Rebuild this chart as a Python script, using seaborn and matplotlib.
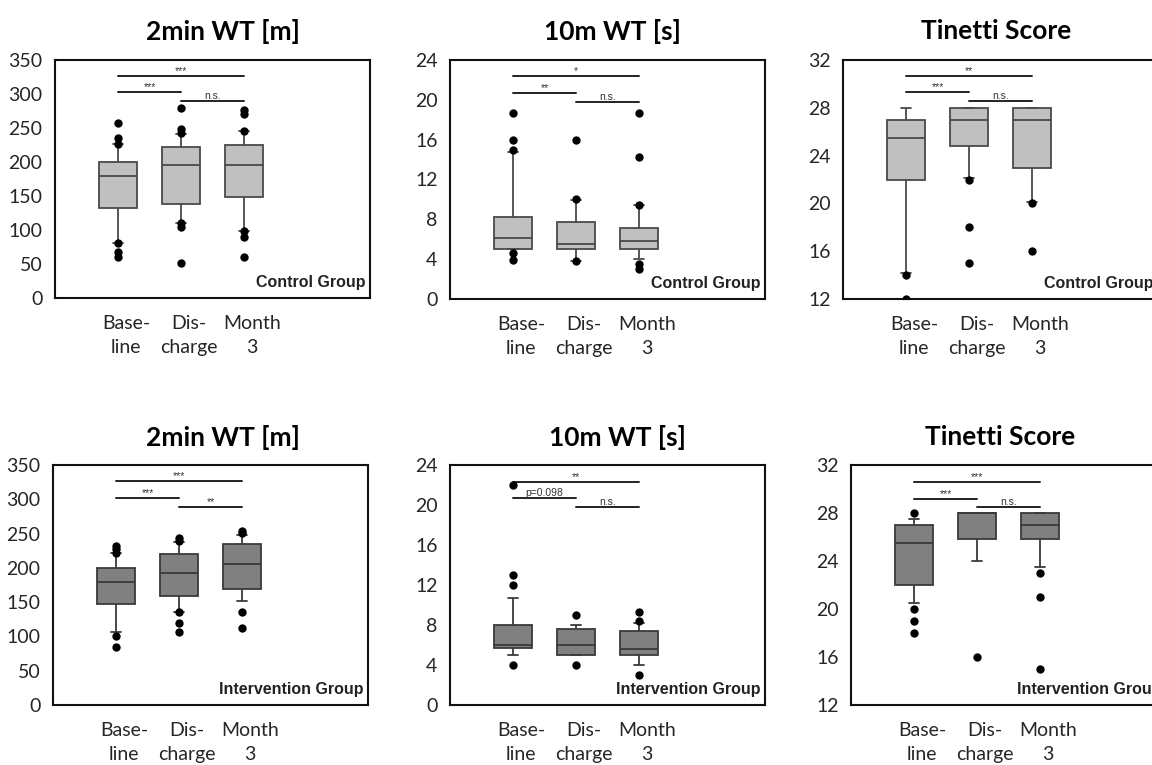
import numpy as np
import pandas as pd
import matplotlib
matplotlib.use("Agg")
import matplotlib.pyplot as plt
import matplotlib.transforms as mtransforms
import seaborn as sns

# time points (4th tick on the axis is left empty)
times = ["Baseline", "Discharge", "Month 3"]
order = times + ["empty"]
tick_labels = ["Base-\nline", "Dis-\ncharge", "Month\n3", ""]

# box summaries per time point: [lower whisker, Q1, median, Q3, upper whisker]
ctrl_2min_box = [[81, 132, 179, 200, 226], [110, 138, 195, 222, 241], [99, 149, 195, 225, 246]]
ctrl_2min_out = [[257, 236, 226, 81, 67, 60], [280, 248, 242, 110, 104, 51], [277, 271, 246, 99, 89, 60]]

ctrl_10m_box = [[5.0, 5.0, 6.1, 8.2, 14.8], [3.8, 5.0, 5.5, 7.75, 9.9], [4.0, 5.0, 5.85, 7.1, 9.45]]
ctrl_10m_out = [[18.7, 16.0, 15.0, 4.6, 3.9], [16.0, 10.0, 3.8], [18.7, 14.3, 9.45, 3.5, 3.0]]

ctrl_tin_box = [[14.2, 22, 25.5, 27, 28], [22.1, 24.8, 27, 28, 28], [20.1, 23, 27, 28, 28]]
ctrl_tin_out = [[14, 12], [22, 18, 15], [20, 16]]

int_2min_box = [[107, 148, 180, 200, 221], [136, 159, 192, 220, 238], [152, 169, 206, 235, 248]]
int_2min_out = [[232, 228, 222, 101, 84], [243, 239, 135, 119, 107], [254, 251, 135, 113]]

int_10m_box = [[5.0, 5.75, 6.05, 8.0, 10.7], [5.0, 5.0, 6.05, 7.6, 8.0], [4.0, 5.0, 5.65, 7.4, 8.2]]
int_10m_out = [[22.0, 13.0, 12.0, 4.0], [9.0, 4.0], [9.35, 8.4, 3.0]]

int_tin_box = [[20.5, 22, 25.5, 27, 27.5], [24, 25.8, 28, 28, 28], [23.5, 25.8, 27, 28, 28]]
int_tin_out = [[28, 20, 19, 18], [16], [23, 21, 15]]

titles = ["2min WT [m]", "10m WT [s]", "Tinetti Score"]
ylims = [(0, 350), (0, 24), (12, 32)]
yticks = [np.arange(0, 351, 50), np.arange(0, 25, 4), np.arange(12, 33, 4)]

# significance bars: (x0, x1, y, label)
ctrl_sig = [
    [(0, 2, 326, "***"), (0, 1, 303, "***"), (1, 2, 290, "n.s.")],
    [(0, 2, 22.4, "*"), (0, 1, 20.7, "**"), (1, 2, 19.8, "n.s.")],
    [(0, 2, 30.65, "**"), (0, 1, 29.3, "***"), (1, 2, 28.6, "n.s.")],
]
int_sig = [
    [(0, 2, 326, "***"), (0, 1, 302, "***"), (1, 2, 289, "**")],
    [(0, 2, 22.3, "**"), (0, 1, 20.7, "p=0.098"), (1, 2, 19.8, "n.s.")],
    [(0, 2, 30.6, "***"), (0, 1, 29.2, "***"), (1, 2, 28.5, "n.s.")],
]

sns.set_style("white")
plt.rcParams["font.family"] = ["Lato", "DejaVu Sans"]

fig = plt.figure(figsize=(11.52, 7.65), dpi=100)
W, H = 1152, 765

# axes rectangles in pixels: left, top, right, bottom
rows = [
    {"box": [ctrl_2min_box, ctrl_10m_box, ctrl_tin_box],
     "out": [ctrl_2min_out, ctrl_10m_out, ctrl_tin_out],
     "sig": ctrl_sig, "label": "Control Group",
     "fill": "#c0c0c0", "edge": "#4a4a4a",
     "rects": [(55, 60, 370, 298), (450, 60, 765, 299), (843, 60, 1158, 299)],
     "title_xy": [(223, 31), (612, 31), (996, 31)]},
    {"box": [int_2min_box, int_10m_box, int_tin_box],
     "out": [int_2min_out, int_10m_out, int_tin_out],
     "sig": int_sig, "label": "Intervention Group",
     "fill": "#808080", "edge": "#3a3a3a",
     "rects": [(53, 465, 368, 705), (450, 465, 765, 705), (851, 465, 1166, 705)],
     "title_xy": [(223, 437), (617, 437), (1000, 437)]},
]

for row in rows:
    for k in range(3):
        l, t, r, b = row["rects"][k]
        ax = fig.add_axes([l / W, 1 - b / H, (r - l) / W, (b - t) / H])

        box_df = pd.DataFrame(
            [(times[i], v) for i in range(3) for v in row["box"][k][i]],
            columns=["time", "value"])
        out_df = pd.DataFrame(
            [(times[i], v) for i in range(3) for v in row["out"][k][i]],
            columns=["time", "value"])

        sns.boxplot(data=box_df, x="time", y="value", order=order, ax=ax,
                    whis=(0, 100), width=0.6, color=row["fill"],
                    linecolor=row["edge"], linewidth=1.3, showfliers=False,
                    saturation=1, capwidths=0.16)
        sns.stripplot(data=out_df, x="time", y="value", order=order, ax=ax,
                      jitter=False, color="black", size=6, zorder=5)

        ax.set_xlim(-1, 4)
        ax.set_ylim(*ylims[k])
        ax.set_yticks(yticks[k])
        ax.set_xticks(range(4))
        ax.set_xticklabels(tick_labels, linespacing=1.55)
        ax.set_xlabel("")
        ax.set_ylabel("")
        ax.tick_params(axis="x", length=4, width=1, color="#555555",
                       direction="out", pad=8, labelsize=14)
        ax.tick_params(axis="y", length=3, width=1, color="#555555",
                       direction="out", pad=6, labelsize=14)
        shift = mtransforms.ScaledTranslation(8 / 100, 0, fig.dpi_scale_trans)
        for lab in ax.get_xticklabels():
            lab.set_transform(lab.get_transform() + shift)
        for sp in ax.spines.values():
            sp.set_visible(True)
            sp.set_color("#111111")
            sp.set_linewidth(1.5)

        for x0, x1, y, txt in row["sig"][k]:
            ax.plot([x0, x1], [y, y], color="#222222", lw=1.4)
            ax.text((x0 + x1) / 2, y, txt, ha="center", va="bottom",
                    fontsize=7.5, color="#333333", family="Liberation Sans")

        ax.text(0.985, 0.035, row["label"], transform=ax.transAxes,
                ha="right", va="bottom", fontsize=11.5, fontweight="bold",
                color="#222222", family="Liberation Sans")

        tx, ty = row["title_xy"][k]
        fig.text(tx / W, 1 - ty / H, titles[k], ha="center", va="center",
                 fontsize=19, fontweight="bold", color="black")

fig.savefig("out.png", dpi=100)
